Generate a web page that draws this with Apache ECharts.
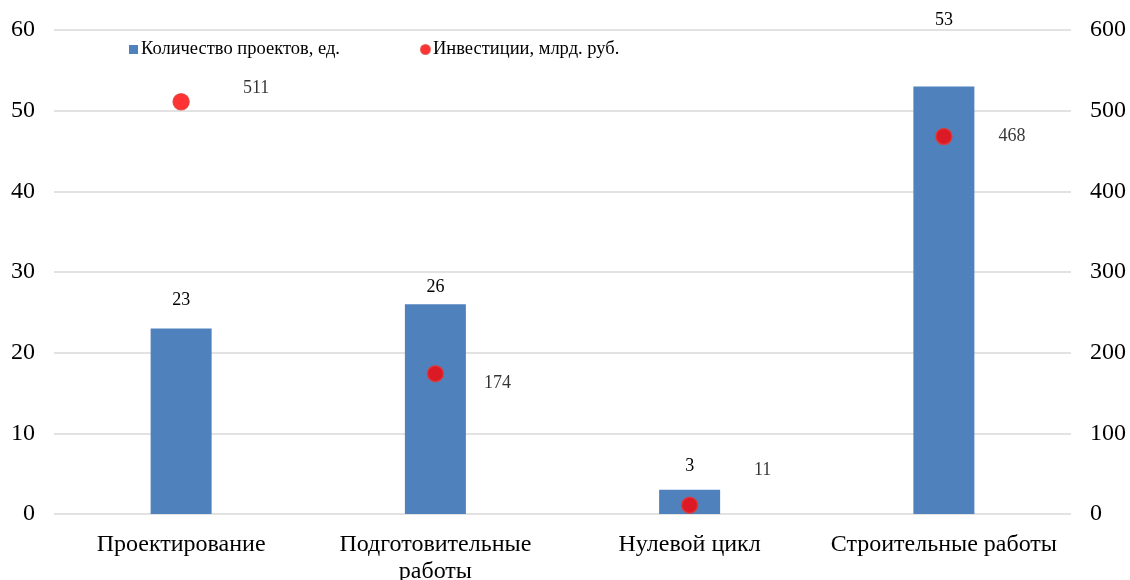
<!DOCTYPE html>
<html>
<head>
<meta charset="utf-8">
<script src="https://cdn.jsdelivr.net/npm/echarts@6/dist/echarts.min.js"></script>
<style>
  html, body { margin: 0; padding: 0; background: #fff; }
  #chart { width: 1130px; height: 580px; }
</style>
</head>
<body>
<div id="chart"></div>
<script>
// data
const categories = ['Проектирование', 'Подготовительные работы', 'Нулевой цикл', 'Строительные работы']
const projectCounts = [23, 26, 3, 53]
const investments = [511, 174, 11, 468]
const leftTicks = [0, 60, 10]
const rightTicks = [0, 600, 100]

// label placement (hand-tuned like in the original)
const barLabelOffsets = [[0, -19], [0, -8], [0, -15], [0, -57]]
const dotLabelOffsets = [[75, -14], [62, 10], [73, -35], [68, 0]]

const font = '"Liberation Serif", "Times New Roman", serif'

// long category names go on two lines
function wrapLabel(name) {
  if (name.length <= 20) return name
  const i = name.lastIndexOf(' ')
  return name.slice(0, i) + '\n' + name.slice(i + 1)
}

const chart = echarts.init(document.getElementById('chart'))
chart.setOption({
  animation: false,
  textStyle: { fontFamily: font, color: '#000' },
  legend: {
    top: 35,
    left: 124,
    itemGap: 80,
    itemWidth: 9,
    itemHeight: 9,
    textStyle: { fontFamily: font, fontSize: 18.5, color: '#000', padding: [0, 0, 0, -2] },
    data: [
      { name: 'Количество проектов, ед.', icon: 'rect' },
      { name: 'Инвестиции, млрд. руб.', icon: 'circle' }
    ]
  },
  grid: { left: 54, right: 59, top: 30, bottom: 66, outerBoundsMode: 'none' },
  xAxis: {
    type: 'category',
    data: categories,
    axisLine: { show: false },
    axisTick: { show: false },
    axisLabel: {
      interval: 0,
      fontFamily: font,
      fontSize: 24,
      color: '#000',
      margin: 17,
      lineHeight: 27,
      formatter: wrapLabel
    }
  },
  yAxis: [
    {
      type: 'value',
      min: leftTicks[0],
      max: leftTicks[1],
      interval: leftTicks[2],
      axisLine: { show: false },
      axisTick: { show: false },
      splitLine: { lineStyle: { color: '#d9d9d9', width: 1.5 } },
      axisLabel: { fontFamily: font, fontSize: 24, color: '#000', margin: 19 }
    },
    {
      type: 'value',
      min: rightTicks[0],
      max: rightTicks[1],
      interval: rightTicks[2],
      axisLine: { show: false },
      axisTick: { show: false },
      splitLine: { show: false },
      axisLabel: { fontFamily: font, fontSize: 24, color: '#000', margin: 19 }
    }
  ],
  series: [
    {
      name: 'Количество проектов, ед.',
      type: 'bar',
      barWidth: 61,
      itemStyle: { color: '#4f81bd' },
      data: projectCounts.map((v, i) => ({
        value: v,
        label: { offset: barLabelOffsets[i] }
      })),
      label: {
        show: true,
        position: 'top',
        distance: 0,
        fontFamily: font,
        fontSize: 18,
        color: '#000'
      },
      z: 2
    },
    {
      name: 'Инвестиции, млрд. руб.',
      type: 'scatter',
      yAxisIndex: 1,
      symbolSize: 16,
      itemStyle: { color: '#ff0000', borderColor: '#e53935', borderWidth: 1.5 },
      data: investments.map((v, i) => ({
        value: v,
        label: { offset: dotLabelOffsets[i] }
      })),
      label: {
        show: true,
        position: 'inside',
        fontFamily: font,
        fontSize: 18,
        color: '#000'
      },
      z: 3
    }
  ]
})
</script>
</body>
</html>
